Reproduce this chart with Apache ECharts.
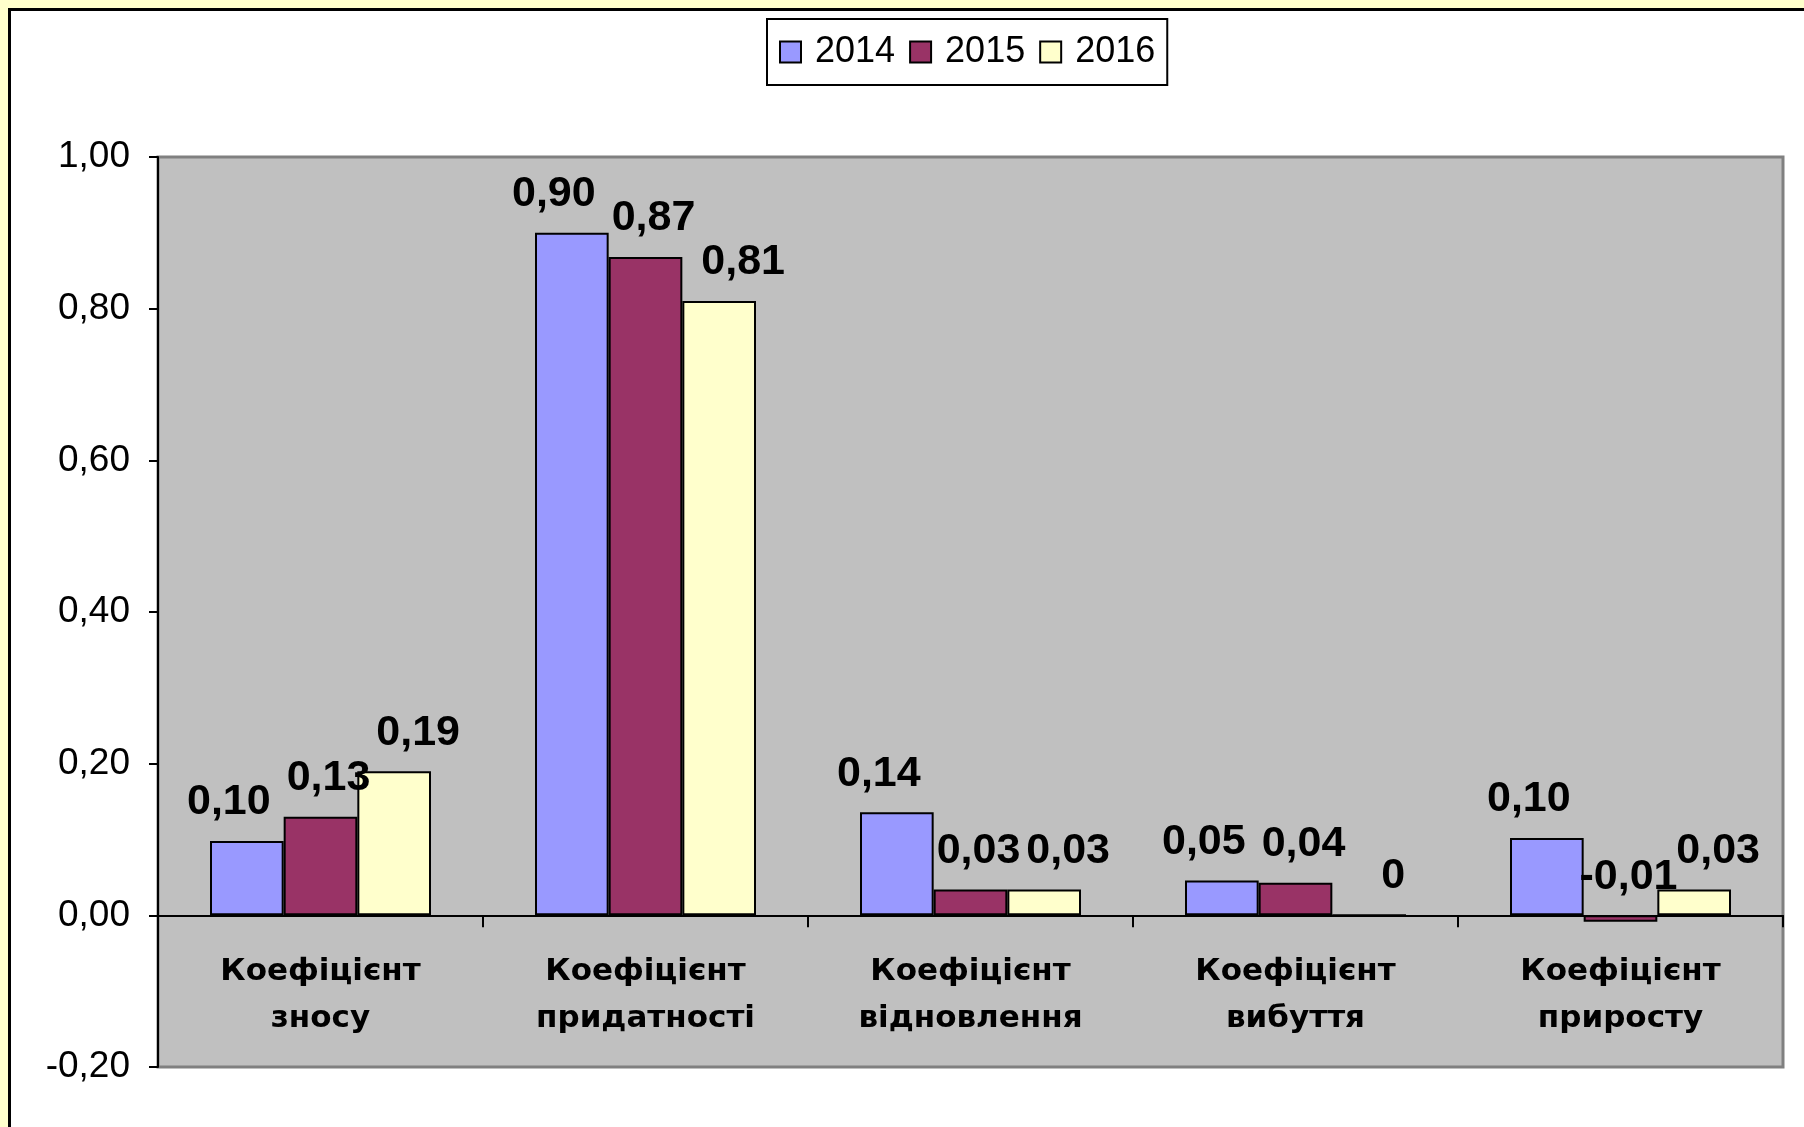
<!DOCTYPE html>
<html>
<head>
<meta charset="utf-8">
<title>Коефіцієнти</title>
<script src="https://cdn.jsdelivr.net/npm/echarts@6/dist/echarts.min.js"></script>
<style>
	html, body {
		margin: 0;
		padding: 0;
		background: #ffffcc;
		overflow: hidden;
	}
	#frame {
		position: absolute;
		left: 8px;
		top: 8px;
		width: 1820px;
		height: 1140px;
		background: #fff;
		border-left: 3px solid #000;
		border-top: 3px solid #000;
	}
	#chart {
		position: absolute;
		left: 0;
		top: 0;
		width: 1804px;
		height: 1127px;
	}
</style>
</head>
<body>
<div id="frame"></div>
<div id="chart"></div>
<script>
// категорії та значення по роках
const categories = [
	'Коефіцієнт\nзносу',
	'Коефіцієнт\nпридатності',
	'Коефіцієнт\nвідновлення',
	'Коефіцієнт\nвибуття',
	'Коефіцієнт\nприросту',
];
const years = ['2014', '2015', '2016'];
const values2014 = [0.098, 0.9, 0.136, 0.046, 0.102];
const values2015 = [0.13, 0.868, 0.034, 0.043, -0.0086];
const values2016 = [0.19, 0.81, 0.034, 0, 0.034];
const colors = ['#9999ff', '#993366', '#ffffcc'];

const yMin = -0.2;
const yMax = 1;

const comma = (v) => v.toFixed(2).replace('.', ',');

const chart = echarts.init(document.getElementById('chart'));

// розміри області графіка
const gridTop = 157;
const gridBottom = 60;
const gridHeight = 1127 - gridTop - gridBottom;
// вісь категорій стоїть на нулі, підписи під нею всередині сірої області
const zeroOffset = (gridHeight * (0 - yMin)) / (yMax - yMin);

// зсув підписів значень по горизонталі, як в оригіналі
const labelShift = [-18, 8, 24];

function makeSeries(i, data) {
	return {
		name: years[i],
		type: 'bar',
		data: data,
		barGap: 0,
		barCategoryGap: '32%',
		itemStyle: {
			color: colors[i],
			borderColor: '#000',
			borderWidth: 2,
		},
		label: {
			show: true,
			position: 'top',
			distance: 17,
			offset: [labelShift[i], 0],
			fontFamily: 'Liberation Sans',
			fontWeight: 'bold',
			fontSize: 43,
			color: '#000',
			formatter: (p) => (p.value === 0 ? '0' : comma(p.value)),
		},
	};
}

const option = {
	backgroundColor: 'transparent',
	animation: false,
	color: colors,
	legend: {
		left: 767,
		top: 19,
		padding: [15, 12, 15, 12],
		borderColor: '#000',
		borderWidth: 2,
		backgroundColor: '#fff',
		icon: 'rect',
		itemWidth: 21,
		itemHeight: 21,
		itemGap: 14,
		itemStyle: {
			borderColor: '#000',
			borderWidth: 2,
		},
		textStyle: {
			fontFamily: 'Liberation Sans',
			fontSize: 36,
			color: '#000',
			padding: [0, 0, 0, 9],
		},
		data: years,
	},
	grid: {
		left: 158,
		top: gridTop,
		right: 21,
		bottom: gridBottom,
		containLabel: false,
		outerBoundsMode: 'none',
		show: true,
		backgroundColor: '#c0c0c0',
		borderColor: '#808080',
		borderWidth: 3,
	},
	xAxis: {
		type: 'category',
		data: categories,
		position: 'bottom',
		offset: -zeroOffset,
		axisLine: { onZero: false, lineStyle: { color: '#000', width: 2 } },
		axisTick: { show: true, length: 12, lineStyle: { color: '#000', width: 2 } },
		axisLabel: {
			margin: 33,
			interval: 0,
			fontFamily: 'DejaVu Sans',
			fontWeight: 'bold',
			fontSize: 31,
			lineHeight: 47,
			color: '#000',
		},
	},
	yAxis: {
		type: 'value',
		min: yMin,
		max: yMax,
		interval: 0.2,
		splitLine: { show: false },
		axisLine: { show: true, onZero: false, lineStyle: { color: '#000', width: 2 } },
		axisTick: { show: true, length: 9, lineStyle: { color: '#000', width: 2 } },
		axisLabel: {
			margin: 28,
			fontFamily: 'Liberation Sans',
			fontSize: 37,
			color: '#000',
			formatter: (v) => comma(v),
		},
	},
	series: [
		makeSeries(0, values2014),
		makeSeries(1, values2015),
		makeSeries(2, values2016),
	],
};

chart.setOption(option);
</script>
</body>
</html>
